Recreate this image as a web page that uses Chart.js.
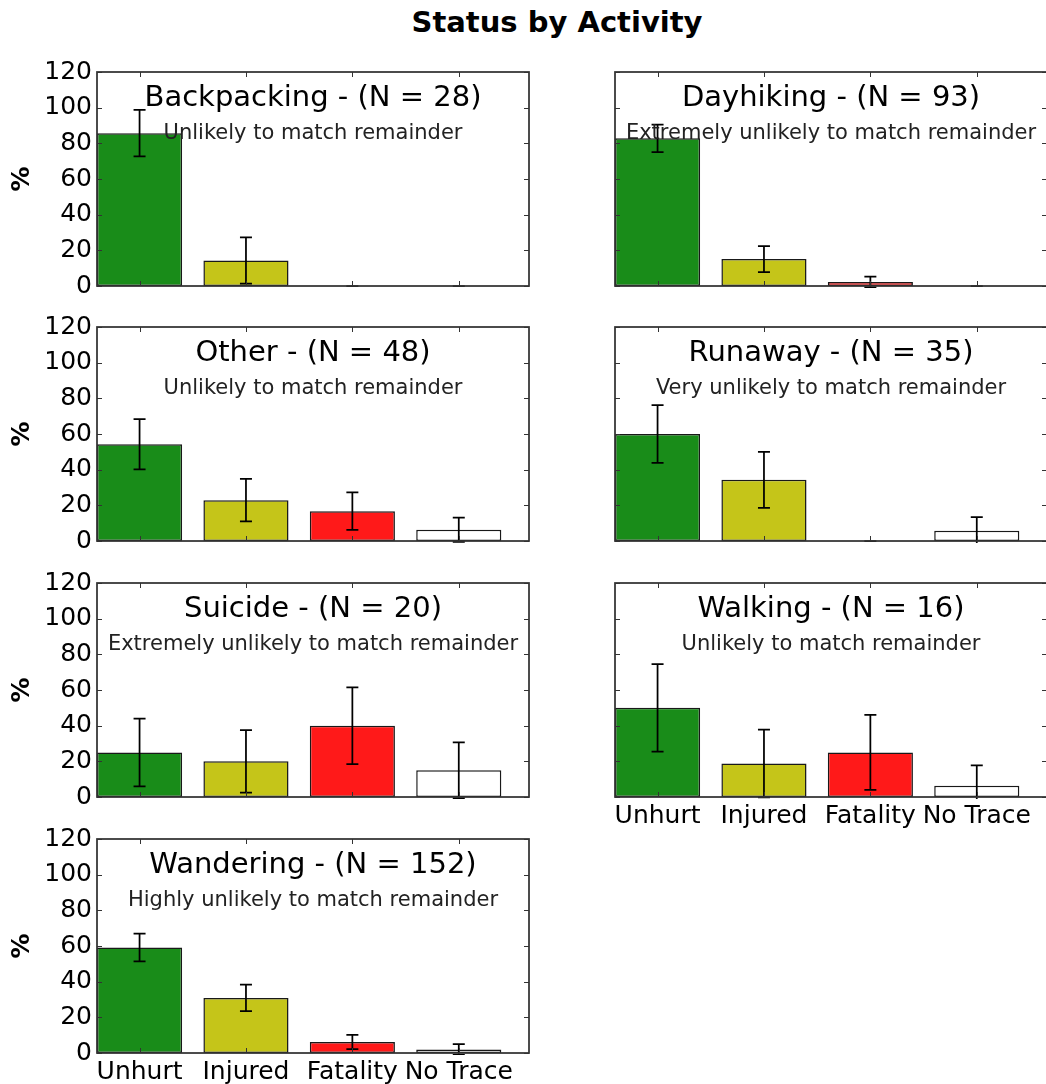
<!DOCTYPE html>
<html>
<head>
<meta charset="utf-8">
<title>Status by Activity</title>
<script src="https://cdn.jsdelivr.net/npm/chart.js@4.4.1/dist/chart.umd.min.js"></script>
<style>
  html, body { margin: 0; padding: 0; background: #fff; width: 1046px; height: 1084px; overflow: hidden; }
  #heading { position: absolute; left: 357px; top: 4px; width: 400px; text-align: center;
             font: bold 29px "DejaVu Sans", sans-serif; line-height: 36px; color: #000; }
  canvas { position: absolute; }
</style>
</head>
<body>
<div id="heading">Status by Activity</div>
<div id="panels"></div>
<script>
// Search outcome by subject activity: share of each status (%) with error bars.
const ACTIVITIES = ['Backpacking', 'Dayhiking', 'Other', 'Runaway', 'Suicide', 'Walking', 'Wandering'];
const COUNTS     = [28, 93, 48, 35, 20, 16, 152];
const VERDICTS   = [
  'Unlikely to match remainder',
  'Extremely unlikely to match remainder',
  'Unlikely to match remainder',
  'Very unlikely to match remainder',
  'Extremely unlikely to match remainder',
  'Unlikely to match remainder',
  'Highly unlikely to match remainder'
];
const STATUSES = ['Unhurt', 'Injured', 'Fatality', 'No Trace'];
const Y_TICKS  = [0, 20, 40, 60, 80, 100, 120];

// Percent of subjects per status, one entry per activity (same order as ACTIVITIES)
const UNHURT   = [85.7, 82.8, 54.2, 60.0, 25.0, 50.0, 59.2];
const INJURED  = [14.3, 15.1, 22.9, 34.3, 20.0, 18.8, 30.9];
const FATALITY = [0.0, 2.2, 16.7, 0.0, 40.0, 25.0, 6.2];
const NO_TRACE = [0.0, 0.0, 6.3, 5.7, 15.0, 6.3, 2.0];

// Error bar half-lengths (percentage points)
const UNHURT_ERR   = [13.0, 7.7, 14.1, 16.2, 19.0, 24.5, 7.8];
const INJURED_ERR  = [13.0, 7.3, 11.9, 15.7, 17.5, 19.0, 7.4];
const FATALITY_ERR = [0.0, 3.0, 10.5, 0.0, 21.5, 21.0, 4.0];
const NO_TRACE_ERR = [0.0, 0.0, 6.8, 7.7, 15.6, 11.5, 3.0];

const STATUS_COLORS = ['#198c19', '#c5c519', '#ff1919', '#ffffff'];

Chart.defaults.font.family = '"DejaVu Sans", sans-serif';
Chart.defaults.color = '#000';

// grid geometry (pixels)
const ROW_TOPS = [72, 327, 583, 839];
const PLOT_H = 214;
const PAD_TOP = 24;

function panelDecor(heading, verdict, values, errors) {
  return {
    id: 'panelDecor',
    afterDatasetsDraw(chart) {
      const { ctx, chartArea: a, scales: { x, y } } = chart;
      // error bars
      ctx.save();
      ctx.beginPath();
      ctx.rect(a.left, a.top - 2, a.right - a.left, a.bottom - a.top + 4);
      ctx.clip();
      ctx.strokeStyle = '#000';
      ctx.lineWidth = 1.75;
      values.forEach((v, i) => {
        const e = errors[i];
        const px = x.getPixelForValue(i);
        const hi = y.getPixelForValue(v + e);
        const lo = y.getPixelForValue(v - e);
        ctx.beginPath();
        ctx.moveTo(px, hi); ctx.lineTo(px, lo);
        ctx.moveTo(px - 6, hi); ctx.lineTo(px + 6, hi);
        ctx.moveTo(px - 6, lo); ctx.lineTo(px + 6, lo);
        ctx.stroke();
      });
      ctx.restore();

      // inward tick marks on all four sides
      ctx.save();
      ctx.strokeStyle = '#333';
      ctx.lineWidth = 1;
      ctx.beginPath();
      y.ticks.forEach(t => {
        const py = Math.round(y.getPixelForValue(t.value)) + 0.5;
        ctx.moveTo(a.left, py); ctx.lineTo(a.left + 5, py);
        ctx.moveTo(a.right, py); ctx.lineTo(a.right - 5, py);
      });
      x.ticks.forEach(t => {
        const px = Math.round(x.getPixelForValue(t.value)) + 0.5;
        ctx.moveTo(px, a.bottom); ctx.lineTo(px, a.bottom - 5);
        ctx.moveTo(px, a.top); ctx.lineTo(px, a.top + 5);
      });
      ctx.stroke();
      // frame
      ctx.strokeStyle = '#333';
      ctx.lineWidth = 1.75;
      ctx.strokeRect(a.left, a.top, a.right - a.left, a.bottom - a.top);
      ctx.restore();
    },
    afterDraw(chart) {
      const { ctx, chartArea: a } = chart;
      const cx = (a.left + a.right) / 2;
      ctx.save();
      ctx.textAlign = 'center';
      ctx.textBaseline = 'alphabetic';
      ctx.fillStyle = '#000';
      ctx.font = '29px "DejaVu Sans", sans-serif';
      ctx.fillText(heading, cx, a.top + 34);
      ctx.fillStyle = '#222';
      ctx.font = '21px "DejaVu Sans", sans-serif';
      ctx.fillText(verdict, cx, a.top + 66.5);
      ctx.restore();
    }
  };
}

const host = document.getElementById('panels');

ACTIVITIES.forEach((name, k) => {
  const col = k % 2;
  const row = Math.floor(k / 2);
  const isBottom = (k === 5 || k === 6);
  const values = [UNHURT[k], INJURED[k], FATALITY[k], NO_TRACE[k]];
  const errors = [UNHURT_ERR[k], INJURED_ERR[k], FATALITY_ERR[k], NO_TRACE_ERR[k]];

  const bottomExtra = isBottom ? 40 : 20;
  const canvas = document.createElement('canvas');
  const cw = col === 0 ? 545 : 470;
  const ch = PAD_TOP + PLOT_H + bottomExtra;
  canvas.width = cw;
  canvas.height = ch;
  canvas.style.left = (col === 0 ? 0 : 590) + 'px';
  canvas.style.top = (ROW_TOPS[row] - PAD_TOP) + 'px';
  canvas.style.width = cw + 'px';
  canvas.style.height = ch + 'px';
  host.appendChild(canvas);

  new Chart(canvas, {
    type: 'bar',
    data: {
      datasets: [{
        data: values.map((v, i) => ({ x: i, y: v })),
        backgroundColor: STATUS_COLORS,
        borderColor: '#191919',
        borderWidth: 1.5,
        borderSkipped: false,
        categoryPercentage: 1,
        barPercentage: 0.8
      }]
    },
    options: {
      responsive: false,
      animation: false,
      events: [],
      devicePixelRatio: 1,
      layout: {
        padding: col === 0
          ? { left: 0, right: 16, top: PAD_TOP, bottom: 0 }
          : { left: 25, right: 13, top: PAD_TOP, bottom: 0 }
      },
      plugins: {
        legend: { display: false },
        tooltip: { enabled: false }
      },
      scales: {
        x: {
          type: 'linear',
          min: -0.4,
          max: 3.66,
          offset: false,
          grid: { display: false, drawTicks: false },
          border: { display: false },
          afterBuildTicks: s => { s.ticks = STATUSES.map((_, i) => ({ value: i })); },
          ticks: {
            display: isBottom,
            padding: 4,
            maxRotation: 0,
            autoSkip: false,
            color: '#000',
            font: { size: 25 },
            callback: v => STATUSES[v]
          },
          afterFit: s => { s.height = bottomExtra; }
        },
        y: {
          min: 0,
          max: 120,
          grid: { display: false, drawTicks: false },
          border: { display: false },
          afterBuildTicks: s => { s.ticks = Y_TICKS.map(v => ({ value: v })); },
          ticks: { display: col === 0, padding: 5, color: '#000', font: { size: 25 } },
          title: {
            display: col === 0,
            text: '%',
            color: '#000',
            font: { size: 25, weight: 'bold' },
            padding: { top: 7, bottom: 0 }
          },
          afterFit: s => { s.width = col === 0 ? 97 : 0; }
        }
      }
    },
    plugins: [panelDecor(name + ' - (N = ' + COUNTS[k] + ')', VERDICTS[k], values, errors)]
  });
});
</script>
</body>
</html>
